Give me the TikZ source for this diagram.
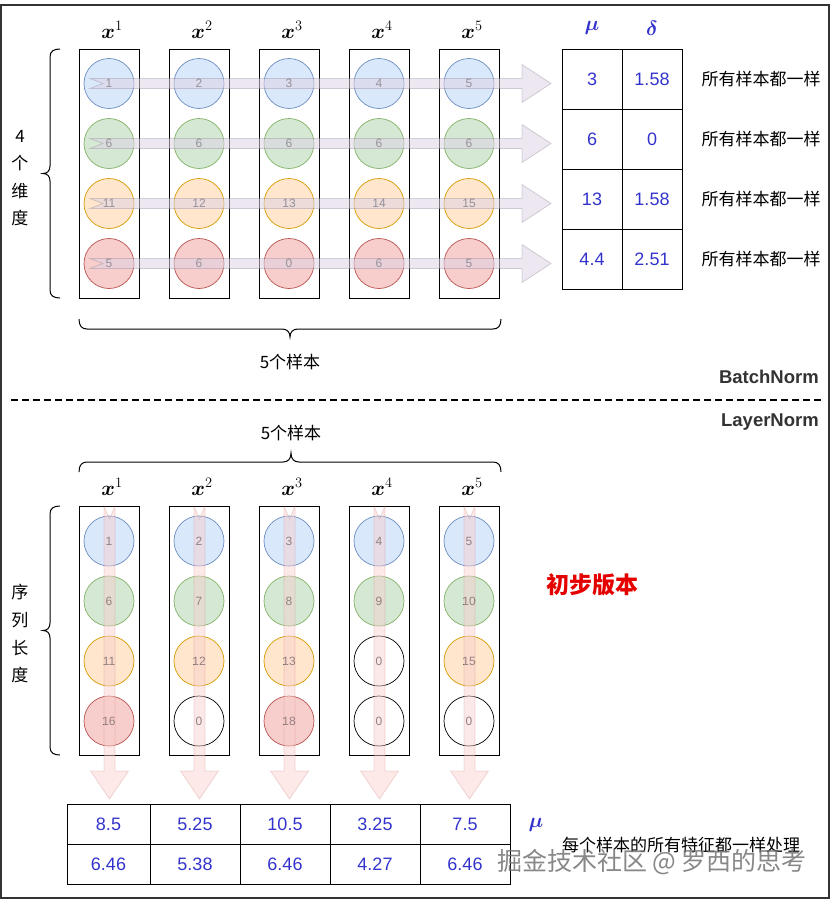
\documentclass[tikz,border=0pt]{standalone}
\usepackage{fontspec}
\usepackage{amsmath,bm}
\setmainfont{Liberation Sans}
\newfontfamily\cjk{Noto Sans CJK SC}
\definecolor{bfill}{HTML}{DAE8FC}\definecolor{bdraw}{HTML}{6C8EBF}
\definecolor{gfill}{HTML}{D5E8D4}\definecolor{gdraw}{HTML}{82B366}
\definecolor{ofill}{HTML}{FFE6CC}\definecolor{odraw}{HTML}{D79B00}
\definecolor{rfill}{HTML}{F8CECC}\definecolor{rdraw}{HTML}{B85450}
\definecolor{numblue}{HTML}{3333CC}
\definecolor{pfill}{HTML}{DDD3E3}\definecolor{pdraw}{HTML}{8C8294}
\definecolor{darktxt}{HTML}{333333}
\tikzset{
  circ/.style={circle, minimum size=50pt, inner sep=0pt, line width=0.7pt, font=\fontsize{12}{14}\selectfont, text=black!75},
  cb/.style={circ, fill=bfill, draw=bdraw},
  cg/.style={circ, fill=gfill, draw=gdraw},
  co/.style={circ, fill=ofill, draw=odraw},
  cr/.style={circ, fill=rfill, draw=rdraw},
  cw/.style={circ, fill=white, draw=black},
  colbox/.style={draw, line width=1pt, minimum width=60pt, minimum height=249pt, inner sep=0pt},
  cell/.style={draw, line width=0.9pt, minimum width=60pt, minimum height=60pt, inner sep=0pt, text=numblue, font=\fontsize{18}{20}\selectfont},
  bcell/.style={draw, line width=0.9pt, minimum height=40pt, inner sep=0pt, text=numblue, font=\fontsize{18}{20}\selectfont},
  xlab/.style={font=\fontsize{21}{24}\selectfont, inner sep=0pt},
  greek/.style={font=\fontsize{20}{22}\selectfont, text=numblue, inner sep=0pt},
  cjktxt/.style={font=\cjk\fontsize{17}{20}\selectfont, inner sep=0pt},
  normlab/.style={font=\bfseries\fontsize{18.5}{21}\selectfont, text=darktxt, inner sep=0pt, anchor=east},
  brace/.style={draw=black, line width=1pt},
  harrow/.style={fill=pfill, fill opacity=0.55, draw=pdraw, draw opacity=0.35, line width=0.8pt},
  varrow/.style={fill=rfill, fill opacity=0.45, draw=rdraw, draw opacity=0.2, line width=0.8pt},
}
\begin{document}
\begin{tikzpicture}[x=1pt,y=-1pt]
\useasboundingbox (0,0) rectangle (831,900);
\draw[darktxt, line width=1.5pt] (1,5) rectangle (829,898);

% ===================== BatchNorm section =====================
\foreach \i in {1,...,5} {
  \node[colbox] (tb\i) at ({109+90*(\i-1)},173.5) {};
  \node[xlab] (tx\i) at ({112+90*(\i-1)},30) {$\bm{x}^{\i}$};
}
\foreach \i/\v in {1/1,2/2,3/3,4/4,5/5} \node[cb] (ta1\i) at ({109+90*(\i-1)},83.5) {\v};
\foreach \i/\v in {1/6,2/6,3/6,4/6,5/6} \node[cg] (ta2\i) at ({109+90*(\i-1)},143.5) {\v};
\foreach \i/\v in {1/11,2/12,3/13,4/14,5/15} \node[co] (ta3\i) at ({109+90*(\i-1)},203.5) {\v};
\foreach \i/\v in {1/5,2/6,3/0,4/6,5/5} \node[cr] (ta4\i) at ({109+90*(\i-1)},263.5) {\v};

% horizontal arrows
\foreach \r in {1,...,4} {
  \pgfmathsetmacro{\c}{83.5+60*(\r-1)}
  \path[harrow] (90,\c-5) -- (522,\c-5) -- (522,\c-19) -- (551,\c) -- (522,\c+19) -- (522,\c+5) -- (90,\c+5) -- (103,\c) -- cycle;
}

% table mu / delta
\node[greek] (mu1) at (592,28) {$\bm{\mu}$};
\node[greek] (de1) at (652,28) {$\bm{\delta}$};
\foreach \r/\m/\d in {1/3/1.58,2/6/0,3/13/1.58,4/4.4/2.51} {
  \node[cell] (tm\r) at (592,{79+60*(\r-1)}) {\m};
  \node[cell] (td\r) at (652,{79+60*(\r-1)}) {\d};
  \node[cjktxt] (same\r) at (761,{79+60*(\r-1)}) {所有样本都一样};
}

% left brace (top)
\draw[brace] (60,49) .. controls (54,49) and (50,51) .. (50,57) -- (50,166) .. controls (50,171) and (47,173.5) .. (43,173.5) .. controls (47,173.5) and (50,176) .. (50,181) -- (50,290) .. controls (50,296) and (54,298) .. (60,298);
\node[cjktxt] (d1) at (20,136) {4};
\node[cjktxt] (d2) at (20,163) {个};
\node[cjktxt] (d3) at (20,191) {维};
\node[cjktxt] (d4) at (20,218) {度};

% bottom brace (top section)
\draw[brace] (79,319) .. controls (79,326) and (82,329) .. (87,329) -- (282,329) .. controls (287,329) and (290,332) .. (290,337) .. controls (290,332) and (293,329) .. (298,329) -- (493,329) .. controls (498,329) and (501,326) .. (501,319);
\node[cjktxt] (s1) at (290,362) {5个样本};

\node[normlab] (bn) at (819,377) {BatchNorm};
\draw[black, line width=2pt, dash pattern=on 7pt off 4pt] (11,400) -- (823,400);
\node[normlab] (ln) at (819,422) {LayerNorm};

% ===================== LayerNorm section =====================
\node[cjktxt] (s2) at (291,433) {5个样本};
\draw[brace] (79,472) .. controls (79,465) and (82,462) .. (87,462) -- (283,462) .. controls (288,462) and (291,459) .. (291,453) .. controls (291,459) and (294,462) .. (299,462) -- (493,462) .. controls (498,462) and (501,465) .. (501,472);

\foreach \i in {1,...,5} {
  \node[colbox] (bb\i) at ({109+90*(\i-1)},630.5) {};
  \node[xlab] (bx\i) at ({112+90*(\i-1)},487) {$\bm{x}^{\i}$};
}
\node[cb] (b11) at (109,541) {1};
\node[cg] (b12) at (109,601) {6};
\node[co] (b13) at (109,661) {11};
\node[cr] (b14) at (109,721) {16};
\node[cb] (b21) at (199,541) {2};
\node[cg] (b22) at (199,601) {7};
\node[co] (b23) at (199,661) {12};
\node[cw] (b24) at (199,721) {0};
\node[cb] (b31) at (289,541) {3};
\node[cg] (b32) at (289,601) {8};
\node[co] (b33) at (289,661) {13};
\node[cr] (b34) at (289,721) {18};
\node[cb] (b41) at (379,541) {4};
\node[cg] (b42) at (379,601) {9};
\node[cw] (b43) at (379,661) {0};
\node[cw] (b44) at (379,721) {0};
\node[cb] (b51) at (469,541) {5};
\node[cg] (b52) at (469,601) {10};
\node[co] (b53) at (469,661) {15};
\node[cw] (b54) at (469,721) {0};

% vertical arrows
\foreach \i in {1,...,5} {
  \pgfmathsetmacro{\c}{109.5+90*(\i-1)}
  \path[varrow] (\c-5.5,506) -- (\c,519) -- (\c+5.5,506) -- (\c+5.5,771) -- (\c+19,771) -- (\c,799) -- (\c-19,771) -- (\c-5.5,771) -- cycle;
}

% left brace (bottom)
\draw[brace] (60,506) .. controls (54,506) and (50,508) .. (50,514) -- (50,623) .. controls (50,628) and (47,630.5) .. (43,630.5) .. controls (47,630.5) and (50,633) .. (50,638) -- (50,747) .. controls (50,753) and (54,755) .. (60,755);
\node[cjktxt] (e1) at (20,592) {序};
\node[cjktxt] (e2) at (20,620) {列};
\node[cjktxt] (e3) at (20,648) {长};
\node[cjktxt] (e4) at (20,675) {度};

\node[font=\cjk\bfseries\fontsize{23}{26}\selectfont, text=red!90!black, inner sep=0pt] (ver) at (592,585) {初步版本};

% bottom table
\foreach \a/\b/\m/\s [count=\k] in {67/150/8.5/6.46, 150/240/5.25/5.38, 240/330/10.5/6.46, 330/420/3.25/4.27, 420/510/7.5/6.46} {
  \node[bcell, minimum width={(\b-\a)*1pt}] (bm\k) at ({(\a+\b)/2},824) {\m};
  \node[bcell, minimum width={(\b-\a)*1pt}] (bs\k) at ({(\a+\b)/2},864) {\s};
}
\node[greek] (mu2) at (536,825) {$\bm{\mu}$};
\node[cjktxt] (note) at (681,845) {每个样本的所有特征都一样处理};
\node[font=\cjk\fontsize{25}{30}\selectfont, text=black!55, opacity=0.85, inner sep=0pt] (wm) at (652,862) {掘金技术社区 @ 罗西的思考};
\end{tikzpicture}
\end{document}
